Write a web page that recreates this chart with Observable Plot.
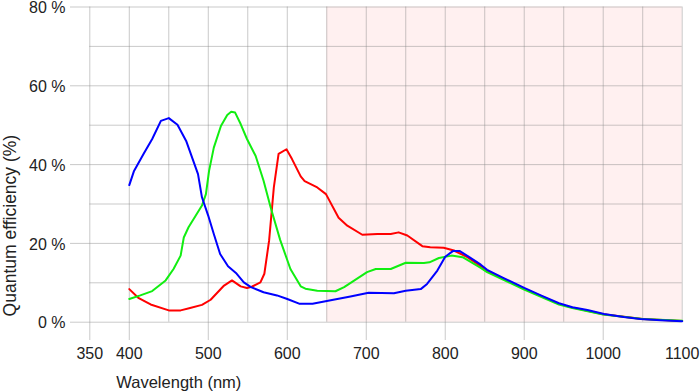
<!DOCTYPE html>
<html>
<head>
<meta charset="utf-8">
<script src="https://cdn.jsdelivr.net/npm/d3@7"></script>
<script src="https://cdn.jsdelivr.net/npm/@observablehq/plot@0.6"></script>
<style>
  html, body { margin: 0; padding: 0; background: #fff; }
  #chart svg { display: block; }
</style>
</head>
<body>
<div id="chart"></div>
<script>
// ---- data ----
const blueWl  = [400,406,418,429,440,450,461,472,487,492,500,507,515,525,535,545,554,570,587,600,615,632,660,680,703,735,750,769,777,790,800,810,818,830,845,853,874,900,921,944,961,980,1001,1026,1047,1073,1100];
const blueQE  = [34.8,38.4,42.7,46.5,51.1,51.8,50.1,46.0,37.6,31.7,27.0,22.4,17.3,14.2,12.5,10.1,8.9,7.6,6.8,5.9,4.7,4.7,5.75,6.5,7.45,7.35,8.0,8.4,9.7,13.1,16.6,18.1,18.1,16.6,14.6,13.3,11.2,8.7,6.8,4.8,3.8,3.1,2.1,1.3,0.8,0.5,0.25];

const greenWl = [400,414,429,446,456,465,469,475,484,492,497,501,507,516,524,529,534,541,549,560,570,579,591,604,617,623,638,661,672,701,712,731,750,773,780,792,808,822,845,853,900,944,961,1000,1050,1100];
const greenQE = [5.9,6.8,7.9,10.6,13.5,16.9,21.5,24.1,27.0,29.6,32.5,38.4,44.3,49.8,52.6,53.4,53.2,50.3,46.5,42.2,35.9,29.1,20.9,13.5,9.1,8.5,8.0,7.85,8.9,12.7,13.5,13.5,15.1,15.0,15.2,16.3,16.9,16.5,13.8,12.7,8.3,4.5,3.6,1.95,0.8,0.35];

const redWl   = [400,412,427,450,465,477,492,503,520,530,541,549,555,566,571,577,583,589,599,606,617,622,638,649,665,676,695,714,731,741,752,771,781,798,811,828,845,853,900,944,961,1000,1050,1100];
const redQE   = [8.4,6.1,4.5,3.0,3.0,3.6,4.4,5.7,9.3,10.6,9.1,8.7,9.0,10.1,12.3,20.7,34.2,42.7,43.9,41.4,37.0,35.8,34.2,32.5,26.5,24.5,22.2,22.4,22.4,22.8,22.0,19.3,19.0,18.9,18.2,16.5,14.2,13.0,8.5,4.65,3.7,2.0,0.8,0.3];

const shadeRange   = [650, 1100];   // infrared band (nm)
const xDomain      = [350, 1100];
const yDomain      = [0, 80];
const xTickLabels  = [350,400,500,600,700,800,900,1000,1100];
const xTickMarks   = [350,400,500,600,700,800,900,1000];
const yTickLabels  = [0,20,40,60,80];
const xGrid        = d3.range(350, 1101, 50);
const yGrid        = d3.range(0, 81, 10);
const xTitle = "Wavelength (nm)";
const yTitle = "Quantum efficiency (%)";

const series = [
  {name: "red",   wl: redWl,   qe: redQE,   color: "#ff0000"},
  {name: "green", wl: greenWl, qe: greenQE, color: "#11ee11"},
  {name: "blue",  wl: blueWl,  qe: blueQE,  color: "#0000ff"}
];
const rows = series.flatMap(s => s.wl.map((w, i) => ({series: s.name, wl: w, qe: s.qe[i], color: s.color})));

const gridStroke = "#888";
const gridOpacity = 0.45;

const chart = Plot.plot({
  width: 700,
  height: 392,
  marginLeft: 89.3,
  marginRight: 18.3,
  marginTop: 6.5,
  marginBottom: 70.3,
  style: {fontFamily: "'Liberation Sans', Arial, sans-serif", fontSize: "16px", color: "#222", background: "#fff", overflow: "visible"},
  x: {domain: xDomain},
  y: {domain: yDomain},
  marks: [
    Plot.rect([{x1: shadeRange[0], x2: shadeRange[1], y1: yDomain[0], y2: yDomain[1]}],
      {x1: "x1", x2: "x2", y1: "y1", y2: "y2", fill: "#fff0f0"}),
    Plot.ruleX(xGrid, {y1: yDomain[0], y2: yDomain[1], stroke: gridStroke, strokeOpacity: gridOpacity}),
    Plot.ruleY(yGrid, {x1: xDomain[0], x2: xDomain[1], stroke: gridStroke, strokeOpacity: gridOpacity}),
    Plot.axisX({ticks: xTickMarks, tickSize: 18.3, text: null, stroke: gridStroke, strokeOpacity: gridOpacity, label: null}),
    Plot.axisX({ticks: xTickLabels, tickSize: 0, tickPadding: 25, tickFormat: d => String(d), fill: "#222", label: null}),
    Plot.axisY({ticks: yTickLabels, tickSize: 19.3, text: null, stroke: gridStroke, strokeOpacity: gridOpacity, label: null}),
    Plot.axisY({ticks: yTickLabels, tickSize: 0, tickPadding: 24.3, dy: 1, tickFormat: d => d + " %", fill: "#222", label: null}),
    Plot.line(rows, {x: "wl", y: "qe", z: "series", stroke: "color", strokeWidth: 2, strokeLinejoin: "round"}),
    Plot.text([xTitle], {frameAnchor: "bottom-left", text: d => d, textAnchor: "middle", lineAnchor: "bottom",
      dx: 89, dy: 66, fontSize: 16.5, fill: "#222"}),
    Plot.text([yTitle], {frameAnchor: "left", text: d => d, rotate: -90, textAnchor: "middle", lineAnchor: "bottom",
      dx: -74.3, dy: 61, fontSize: 17.5, fill: "#222"})
  ]
});
document.getElementById("chart").appendChild(chart);
</script>
</body>
</html>
